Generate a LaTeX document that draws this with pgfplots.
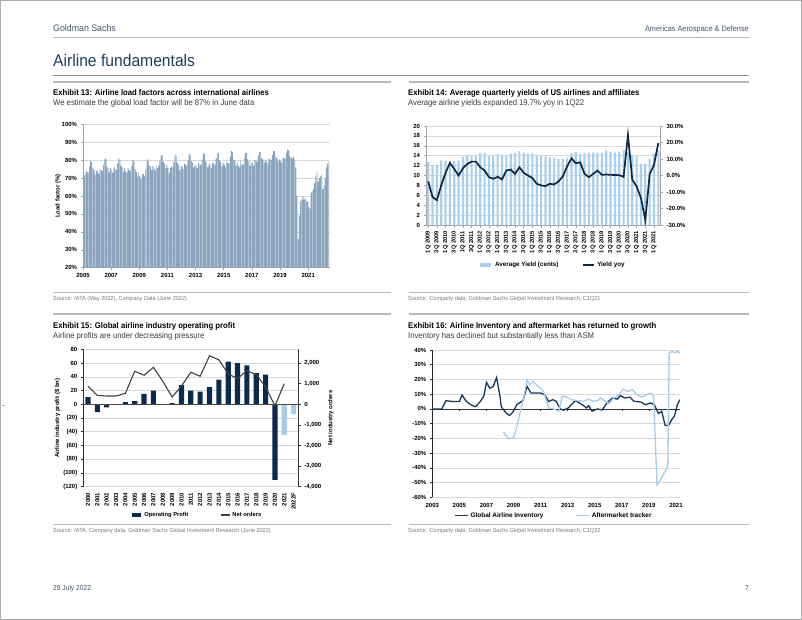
\documentclass[border=0pt]{standalone}
\usepackage{fontspec}
\setmainfont{Liberation Sans}
\newfontfamily\gscond[FakeStretch=0.93]{Liberation Sans}
\usepackage{pgfplots}
\pgfplotsset{compat=1.18}
\definecolor{gsnavy}{HTML}{1F3D63}
\definecolor{hdr}{HTML}{44546A}
\definecolor{gridc}{HTML}{D9D9D9}
\definecolor{ltline}{HTML}{B4BAC2}
\definecolor{midline}{HTML}{8C96A3}
\definecolor{ex13bar}{HTML}{8AA4BE}
\definecolor{ex14bar}{HTML}{A9CFEE}
\definecolor{navyline}{HTML}{0E2841}
\definecolor{ex15dark}{HTML}{0B2A4F}
\definecolor{ex15light}{HTML}{A7CBE8}
\definecolor{ex16dark}{HTML}{17375E}
\definecolor{ex16light}{HTML}{A8CBEA}
\definecolor{srcgray}{HTML}{7A7A7A}
\definecolor{subgray}{HTML}{3A3A3A}
\newcommand\exttl{\gscond\bfseries\fontsize{8.3}{10}\selectfont}
\newcommand\exsub{\gscond\fontsize{8.3}{10}\selectfont}
\newcommand\srcf{\gscond\fontsize{6}{7}\selectfont}
\pgfplotsset{gsaxis/.style={scale only axis,
  /pgf/number format/assume math mode=true,
  tick label style={font=\fontsize{6}{7}\selectfont\bfseries},
  label style={font=\fontsize{6}{7}\selectfont\bfseries},
  legend style={font=\fontsize{6.3}{7}\selectfont\bfseries, draw=none, fill=none, legend columns=2},
  legend cell align=left,
  grid style={draw=gridc, line width=0.5bp},
  tick align=outside, major tick length=2.5bp,
  tick style={line width=0.5bp}}}
\begin{document}
\begin{tikzpicture}[x=1bp,y=1bp]
\useasboundingbox (0,0) rectangle (802,-620);
\draw[gray!65, line width=1.5bp] (0.75,-0.75) rectangle (801.25,-619.25);
\draw[gray!60, line width=0.6bp] (2,-405) -- (5,-405);
% header
\node[anchor=base west, inner sep=0, text=hdr, font=\gscond\fontsize{9.5}{11}\selectfont] at (53,-31.5) {Goldman Sachs};
\node[anchor=base east, inner sep=0, text=hdr, font=\gscond\fontsize{7.9}{9}\selectfont] at (749,-31.5) {Americas Aerospace \& Defense};
\draw[ltline, line width=0.8bp] (53,-37.3) -- (749,-37.3);
\node[anchor=base west, inner sep=0, text=gsnavy, font=\gscond\fontsize{16.9}{20}\selectfont] at (53,-66.5) {Airline fundamentals};
\draw[midline, line width=1bp] (53,-75.3) -- (749,-75.3);
\draw[ltline, line width=1.8bp] (53,-82.3) -- (391,-82.3);
\draw[ltline, line width=1.8bp] (409,-82.3) -- (749,-82.3);
% titles
\node[anchor=base west, inner sep=0, font=\exttl] at (53,-95.3) {Exhibit 13: Airline load factors across international airlines};
\node[anchor=base west, inner sep=0, text=subgray, font=\exsub] at (53,-105.8) {We estimate the global load factor will be 87\% in June data};
\node[anchor=base west, inner sep=0, font=\exttl] at (408,-95.3) {Exhibit 14: Average quarterly yields of US airlines and affiliates};
\node[anchor=base west, inner sep=0, text=subgray, font=\exsub] at (408,-105.8) {Average airline yields expanded 19.7\% yoy in 1Q22};
\draw[ltline, line width=0.8bp] (53,-292) -- (391,-292);
\draw[ltline, line width=0.8bp] (409,-292) -- (749,-292);
\node[anchor=base west, inner sep=0, text=srcgray, font=\srcf] at (53,-300.5) {Source: IATA (May 2022), Company Data (June 2022)};
\node[anchor=base west, inner sep=0, text=srcgray, font=\srcf] at (408,-300.5) {Source: Company data, Goldman Sachs Global Investment Research, C1Q21};
\draw[ltline, line width=1.5bp] (53,-314) -- (391,-314);
\draw[ltline, line width=1.5bp] (409,-314) -- (749,-314);
\node[anchor=base west, inner sep=0, font=\exttl] at (53,-328) {Exhibit 15: Global airline industry operating profit};
\node[anchor=base west, inner sep=0, text=subgray, font=\exsub] at (53,-338.5) {Airline profits are under decreasing pressure};
\node[anchor=base west, inner sep=0, font=\exttl] at (408,-328) {Exhibit 16: Airline Inventory and aftermarket has returned to growth};
\node[anchor=base west, inner sep=0, text=subgray, font=\exsub] at (408,-338.5) {Inventory has declined but substantially less than ASM};
\draw[ltline, line width=0.8bp] (53,-524) -- (391,-524);
\draw[ltline, line width=0.8bp] (409,-524) -- (749,-524);
\node[anchor=base west, inner sep=0, text=srcgray, font=\srcf] at (53,-532.5) {Source: IATA, Company data, Goldman Sachs Global Investment Research (June 2022)};
\node[anchor=base west, inner sep=0, text=srcgray, font=\srcf] at (408,-532.5) {Source: Company data; Goldman Sachs Global Investment Research, C1Q22};
\node[anchor=base west, inner sep=0, text=hdr, font=\gscond\fontsize{7.2}{9}\selectfont] at (53,-590.5) {29 July 2022};
\node[anchor=base east, inner sep=0, text=hdr, font=\gscond\fontsize{7.2}{9}\selectfont] at (749,-590.5) {7};

% ---------------- Exhibit 13
\begin{axis}[gsaxis,
  at={(83bp,-267.7bp)}, anchor=south west, width=247bp, height=143.4bp,
  xmin=0, xmax=210.6, ymin=20, ymax=100,
  axis lines*=left, axis line style={draw=gray!70, line width=0.6bp},
  tick style={draw=gray!70},
  ytick={20,30,40,50,60,70,80,90,100},
  yticklabels={20\%,30\%,40\%,50\%,60\%,70\%,80\%,90\%,100\%},
  xtick={0,24,48,72,96,120,144,168,192},
  xticklabels={2005,2007,2009,2011,2013,2015,2017,2019,2021},
  ymajorgrids,
  ylabel={Load factor (\%)}, ylabel style={yshift=-6bp}]
\addplot[ybar, bar width=0.72, fill=ex13bar, draw=none] coordinates {
(0.5,73) (1.5,71.5) (2.5,74) (3.5,73.5) (4.5,73) (5.5,76.5) (6.5,79.5) (7.5,79) (8.5,75.5) (9.5,74.5) (10.5,72) (11.5,74)
(12.5,74) (13.5,72.5) (14.5,75) (15.5,74.5) (16.5,74) (17.5,77.5) (18.5,80.5) (19.5,81) (20.5,76.5) (21.5,75.5) (22.5,73) (23.5,75.5)
(24.5,74.5) (25.5,73) (26.5,76) (27.5,75) (28.5,74.5) (29.5,78) (30.5,81) (31.5,80.5) (32.5,77) (33.5,76) (34.5,73.5) (35.5,75.5)
(36.5,74) (37.5,73) (38.5,75.5) (39.5,74.5) (40.5,74) (41.5,77) (42.5,80) (43.5,79.5) (44.5,75) (45.5,73.5) (46.5,71) (47.5,73)
(48.5,71) (49.5,69.5) (50.5,72) (51.5,72.5) (52.5,71) (53.5,75) (54.5,79.5) (55.5,80.5) (56.5,77) (57.5,76.5) (58.5,74.5) (59.5,77)
(60.5,76) (61.5,74.5) (62.5,77) (63.5,75.5) (64.5,77) (65.5,79.5) (66.5,82.5) (67.5,83) (68.5,79) (69.5,78) (70.5,75.5) (71.5,77.5)
(72.5,75.5) (73.5,73) (74.5,75.5) (75.5,76.5) (76.5,76) (77.5,79) (78.5,83) (79.5,82.5) (80.5,78.5) (81.5,77.5) (82.5,74.5) (83.5,76.5)
(84.5,76.5) (85.5,75) (86.5,78) (87.5,77.5) (88.5,77) (89.5,80) (90.5,83.5) (91.5,83) (92.5,79.5) (93.5,78.5) (94.5,76) (95.5,77.5)
(96.5,77) (97.5,75.5) (98.5,78.5) (99.5,77.5) (100.5,77.5) (101.5,80.5) (102.5,84) (103.5,83.5) (104.5,79.5) (105.5,78.5) (106.5,76) (107.5,78)
(108.5,77) (109.5,75.5) (110.5,78.5) (111.5,78) (112.5,77.5) (113.5,81) (114.5,84) (115.5,84) (116.5,80) (117.5,79) (118.5,76.5) (119.5,78.5)
(120.5,77.5) (121.5,76) (122.5,79) (123.5,78.5) (124.5,78) (125.5,82) (126.5,85) (127.5,84.5) (128.5,80.5) (129.5,80) (130.5,77) (131.5,79)
(132.5,77) (133.5,76) (134.5,79.5) (135.5,77.5) (136.5,77.5) (137.5,81.5) (138.5,84) (139.5,84) (140.5,80.5) (141.5,79.5) (142.5,77) (143.5,79)
(144.5,78.5) (145.5,77) (146.5,80) (147.5,80) (148.5,79) (149.5,82.5) (150.5,84.5) (151.5,84.5) (152.5,81) (153.5,80.5) (154.5,78.5) (155.5,80)
(156.5,79) (157.5,78) (158.5,81) (159.5,80.5) (160.5,80) (161.5,83) (162.5,85) (163.5,85) (164.5,81.5) (165.5,81) (166.5,79) (167.5,80.5)
(168.5,79.5) (169.5,78.5) (170.5,81.5) (171.5,81) (172.5,81) (173.5,84) (174.5,86) (175.5,85.5) (176.5,82) (177.5,81.5) (178.5,81) (179.5,82)
(180.5,80.5) (181.5,76) (182.5,60) (183.5,36) (184.5,49) (185.5,57) (186.5,58) (187.5,60) (188.5,58) (189.5,59) (190.5,57) (191.5,57)
(192.5,54) (193.5,53) (194.5,62) (195.5,63) (196.5,64) (197.5,67) (198.5,71) (199.5,73) (200.5,68) (201.5,70) (202.5,71) (203.5,72)
(204.5,64) (205.5,66) (206.5,70) (207.5,76) (208.5,78) (209.5,79)
};
\end{axis}

% ---------------- Exhibit 14
\begin{axis}[gsaxis,
  at={(426bp,-225bp)}, anchor=south west, width=234.5bp, height=99bp,
  xmin=-0.5, xmax=53.5, ymin=0, ymax=20,
  axis lines*=left, axis line style={draw=gray!70, line width=0.6bp},
  tick style={draw=gray!70},
  ytick={0,2,4,6,8,10,12,14,16,18,20},
  yticklabels={0,2,4,6,8,10,12,14,16,18,20},
  xtick={0,2,...,52},
  xticklabels={1Q 2009,3Q 2009,1Q 2010,3Q 2010,1Q 2011,3Q 2011,1Q 2012,3Q 2012,1Q 2013,3Q 2013,1Q 2014,3Q 2014,1Q 2015,3Q 2015,1Q 2016,3Q 2016,1Q 2017,3Q 2017,1Q 2018,3Q 2018,1Q 2019,3Q 2019,1Q 2020,3Q 2020,1Q 2021,3Q 2021,1Q 2021},
  xticklabel style={rotate=90, anchor=east, font=\fontsize{5.8}{6}\selectfont\bfseries},
  ymajorgrids]
\addplot[ybar, bar width=0.5, fill=ex14bar, draw=none] coordinates {
(0,12.7) (1,12.0) (2,12.2) (3,13.0) (4,13.0) (5,13.0) (6,12.9) (7,13.0) (8,13.8) (9,14.0)
(10,14.0) (11,14.0) (12,14.5) (13,14.5) (14,13.9) (15,14.0) (16,14.3) (17,14.2) (18,14.1) (19,14.4)
(20,14.5) (21,14.9) (22,14.6) (23,14.4) (24,14.5) (25,14.1) (26,14.0) (27,13.8) (28,13.6) (29,13.6)
(30,13.3) (31,13.3) (32,13.6) (33,14.5) (34,14.8) (35,14.3) (36,14.5) (37,14.6) (38,14.6) (39,14.6)
(40,14.5) (41,15.1) (42,14.8) (43,14.6) (44,14.8) (45,15.2) (46,14.7) (47,14.2) (48,14.0) (49,12.3)
(50,12.4) (51,13.4) (52,14.4) (53,15.0)
};
\end{axis}
\begin{axis}[gsaxis,
  at={(426bp,-225bp)}, anchor=south west, width=234.5bp, height=99bp,
  xmin=-0.5, xmax=53.5, ymin=-30, ymax=30,
  axis y line*=right, axis x line=none, axis line style={draw=gray!70, line width=0.6bp},
  tick style={draw=gray!70},
  ytick={-30,-20,-10,0,10,20,30},
  yticklabels={-30.0\%,-20.0\%,-10.0\%,0.0\%,10.0\%,20.0\%,30.0\%},
  legend style={at={(axis description cs:0.54,-0.404)}, anchor=center,
    /tikz/every even column/.append style={column sep=22bp}},
  legend image code/.code={\draw[#1] (0bp,0bp) -- (11bp,0bp);}]
\addlegendimage{ex14bar, line width=3.5bp}
\addlegendentry{Average Yield (cents)}
\addplot[navyline, line width=1.7bp] coordinates {
(0,-3.6) (1,-13) (2,-15) (3,-6) (4,1.6) (5,7.6) (6,4) (7,0) (8,4.4) (9,7)
(10,8.4) (11,8.4) (12,5) (13,3) (14,-1) (15,-2) (16,-0.8) (17,-2.4) (18,3) (19,3.6)
(20,1) (21,5) (22,1.6) (23,0) (24,-1.6) (25,-5) (26,-6) (27,-6.4) (28,-5) (29,-5.4)
(30,-3.6) (31,-0.6) (32,5.6) (33,10.4) (34,7.4) (35,8) (36,1) (37,-1) (38,1) (39,3)
(40,0.4) (41,0.6) (42,0.4) (43,0.3) (44,0.2) (45,-0.8) (46,24.5) (47,-2.6) (48,-6.6) (49,-13.7)
(50,-27) (51,0.8) (52,6.4) (53,19.7)
};
\addlegendentry{Yield yoy}
\end{axis}

% ---------------- Exhibit 15
\begin{axis}[gsaxis,
  at={(83.3bp,-486.7bp)}, anchor=south west, width=215bp, height=137.4bp,
  xmin=-0.5, xmax=22.5, ymin=-120, ymax=80,
  axis y line*=left, axis x line*=bottom,
  y axis line style={draw=black!80, line width=0.7bp},
  x axis line style={draw=none}, xtick style={draw=none},
  ytick style={draw=black!80},
  xtick={0,1,...,22},
  xticklabels={2000,2001,2002,2003,2004,2005,2006,2007,2008,2009,2010,2011,2012,2013,2014,2015,2016,2017,2018,2019,2020,2021,2022F},
  xticklabel style={rotate=90, anchor=east},
  ytick={-120,-100,-80,-60,-40,-20,0,20,40,60,80},
  yticklabels={(120),(100),(80),(60),(40),(20),0,20,40,60,80},
  ymajorgrids,
  ylabel={Airline industry profit (\$ bn)}, ylabel style={yshift=-4bp}]
\addplot[ybar, bar width=0.55, bar shift=0pt, fill=ex15dark, draw=none] coordinates {
(0,10.5) (1,-11.5) (2,-4.5) (3,-1) (4,3) (5,4.5) (6,15) (7,20) (8,-1) (9,1.5) (10,28)
(11,20) (12,18.5) (13,25) (14,36) (15,62) (16,60) (17,56.5) (18,45.5) (19,43) (20,-110)
};
\addplot[ybar, bar width=0.55, bar shift=0pt, fill=ex15light, draw=none] coordinates {
(21,-44.5) (22,-14)
};
\draw[black!70, line width=0.6bp] (axis cs:-0.5,0) -- (axis cs:22.5,0);
\end{axis}
\begin{axis}[gsaxis,
  at={(83.3bp,-486.7bp)}, anchor=south west, width=215bp, height=137.4bp,
  xmin=-0.5, xmax=22.5, ymin=-4000, ymax=2666.67,
  axis y line*=right, axis x line=none,
  axis line style={draw=black!80, line width=0.7bp},
  tick style={draw=black!80},
  ytick={-4000,-3000,-2000,-1000,0,1000,2000},
  yticklabels={{-4,000},{-3,000},{-2,000},{-1,000},{0},{1,000},{2,000}},
  ylabel={Net industry orders},
  legend style={at={(axis description cs:0.527,-0.206)}, anchor=center,
    font=\fontsize{5.8}{7}\selectfont\bfseries,
    /tikz/every even column/.append style={column sep=30bp}},
  legend image code/.code={\draw[#1] (0bp,0bp) -- (9bp,0bp);}]
\addlegendimage{ex15dark, line width=3.5bp}
\addlegendentry{Operating Profit}
\addplot[black!75, line width=1.1bp] coordinates {
(0,880) (1,430) (2,400) (3,400) (4,530) (5,1600) (6,1410) (7,1790) (8,1120) (9,350) (10,880)
(11,1550) (12,1360) (13,2350) (14,2160) (15,1470) (16,1250) (17,1630) (18,1440) (19,850) (20,-80) (21,1000)
};
\addlegendentry{Net orders}
\end{axis}

% ---------------- Exhibit 16
\begin{axis}[gsaxis,
  at={(432.3bp,-497.3bp)}, anchor=south west, width=247.7bp, height=147.3bp,
  xmin=2003, xmax=2021.3, ymin=-60, ymax=40,
  axis y line*=left, axis x line*=bottom,
  y axis line style={draw=black!85, line width=0.8bp},
  x axis line style={draw=none}, xtick style={draw=none},
  ytick style={draw=black!80},
  xtick={2003,2005,2007,2009,2011,2013,2015,2017,2019,2021},
  xticklabels={2003,2005,2007,2009,2011,2013,2015,2017,2019,2021},
  ytick={-60,-50,-40,-30,-20,-10,0,10,20,30,40},
  yticklabels={-60\%,-50\%,-40\%,-30\%,-20\%,-10\%,0\%,10\%,20\%,30\%,40\%},
  ymajorgrids,
  legend style={at={(axis description cs:0.491,-0.125)}, anchor=center,
    font=\fontsize{6.5}{7}\selectfont\bfseries,
    /tikz/every even column/.append style={column sep=30bp}},
  legend image code/.code={\draw[#1] (0bp,0bp) -- (13bp,0bp);}]
\draw[black!80, line width=0.7bp] (axis cs:2003,0) -- (axis cs:2021.3,0);
\draw[black!80, line width=0.5bp] (axis cs:2005,0) -- ++(0pt,-2.5bp);
\draw[black!80, line width=0.5bp] (axis cs:2007,0) -- ++(0pt,-2.5bp);
\draw[black!80, line width=0.5bp] (axis cs:2009,0) -- ++(0pt,-2.5bp);
\draw[black!80, line width=0.5bp] (axis cs:2011,0) -- ++(0pt,-2.5bp);
\draw[black!80, line width=0.5bp] (axis cs:2013,0) -- ++(0pt,-2.5bp);
\draw[black!80, line width=0.5bp] (axis cs:2015,0) -- ++(0pt,-2.5bp);
\draw[black!80, line width=0.5bp] (axis cs:2017,0) -- ++(0pt,-2.5bp);
\draw[black!80, line width=0.5bp] (axis cs:2019,0) -- ++(0pt,-2.5bp);
\draw[black!80, line width=0.5bp] (axis cs:2021,0) -- ++(0pt,-2.5bp);
\addplot[ex16dark, line width=1.3bp] coordinates {
(2003.0,0) (2003.7,0) (2004.0,5.6) (2004.5,5) (2005.0,5) (2005.2,9.4) (2005.5,5.2) (2005.9,2.5)
(2006.2,1.6) (2006.5,4.5) (2006.8,8.5) (2007.0,18) (2007.25,14) (2007.5,15.3) (2007.75,21.3)
(2008.0,8.5) (2008.1,1.3) (2008.45,-2.7) (2008.7,-4.5) (2008.95,-2.2) (2009.25,2.9) (2009.5,4.5)
(2009.7,5.6) (2010.0,15.3) (2010.3,10.8) (2011.0,10.8) (2011.3,9.7) (2011.6,5) (2011.9,6.3)
(2012.15,5.2) (2012.45,0) (2012.7,-0.9) (2013.05,0.7) (2013.55,5.6) (2013.95,3.6) (2014.4,0.7)
(2014.55,2.2) (2014.8,-1.6) (2015.2,0) (2015.55,-0.7) (2015.9,4) (2016.3,7.4) (2016.65,6.7)
(2016.9,9) (2017.2,7.4) (2017.6,8) (2017.9,5.2) (2018.4,4.7) (2018.75,2.9) (2019.15,4)
(2019.4,2.9) (2019.7,-3.1) (2019.95,-1.6) (2020.2,-11.2) (2020.45,-11.2) (2020.7,-7.2)
(2020.9,-4.5) (2021.1,2.9) (2021.3,6.3)
};
\addlegendentry{Global Airline Inventory}
\addplot[ex16light, line width=1.3bp] coordinates {
(2008.25,-15.5) (2008.45,-18.4) (2008.7,-20) (2009.0,-19.6) (2009.25,-12) (2009.5,-2.2)
(2009.75,7.4) (2010.0,19.8) (2010.2,16.4) (2010.45,18.7) (2010.8,15.3) (2011.1,13.5)
(2011.25,10.8) (2011.6,0.7) (2011.95,0) (2012.35,-1.6) (2012.6,8.5) (2012.95,8) (2013.3,6.3)
(2013.7,5.6) (2014.2,5.2) (2014.55,6.7) (2014.9,5.2) (2015.2,5.6) (2015.45,7.4) (2015.7,5.6)
(2016.05,3.6) (2016.4,7.4) (2016.8,9.7) (2017.1,13.5) (2017.4,11.9) (2017.8,13) (2018.1,9.7)
(2018.5,8) (2018.9,10.1) (2019.15,10.8) (2019.35,8.5) (2019.6,-51.7) (2019.9,-47.6)
(2020.4,-38.7) (2020.5,38) (2020.7,38.9) (2021.0,38.2) (2021.15,39.3) (2021.3,37.3)
};
\addlegendentry{Aftermarket tracker}
\end{axis}
\end{tikzpicture}
\end{document}
